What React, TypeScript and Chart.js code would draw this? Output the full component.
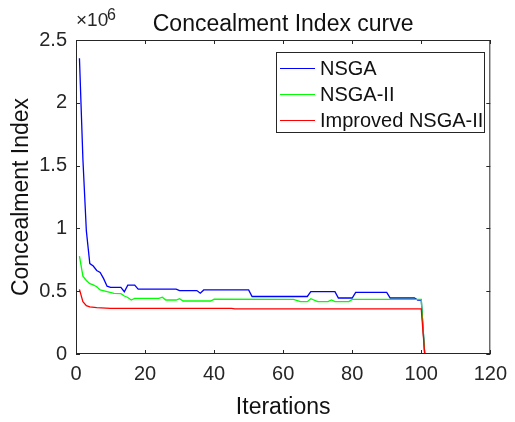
import React, { useEffect, useRef } from "react";
import { Chart, registerables } from "chart.js";

Chart.register(...registerables);

// Iteration breakpoints and Concealment Index values (×10^6)
const nsgaIter = [1, 2, 3, 4, 5, 6, 7, 8, 9, 10, 13, 14, 15, 17, 18, 29, 30, 35, 36, 37, 50, 51, 67, 68, 75, 76, 80, 81, 90, 91, 98, 99, 100, 101];
const nsgaVal = [2.354, 1.55, 0.98, 0.72, 0.7, 0.665, 0.65, 0.6, 0.54, 0.53, 0.53, 0.496, 0.548, 0.548, 0.517, 0.517, 0.505, 0.505, 0.484, 0.51, 0.51, 0.458, 0.458, 0.496, 0.496, 0.446, 0.446, 0.49, 0.49, 0.446, 0.446, 0.43, 0.43, 0];

const nsga2Iter = [1, 2, 3, 4, 5, 6, 7, 9, 11, 13, 14, 15, 16, 17, 24, 25, 26, 29, 30, 31, 39, 40, 63, 65, 67, 68, 70, 73, 74, 75, 79, 80, 100, 101];
const nsga2Val = [0.78, 0.62, 0.585, 0.56, 0.55, 0.536, 0.51, 0.496, 0.483, 0.48, 0.462, 0.45, 0.43, 0.443, 0.443, 0.452, 0.43, 0.43, 0.44, 0.422, 0.422, 0.437, 0.435, 0.417, 0.417, 0.44, 0.417, 0.417, 0.43, 0.417, 0.417, 0.435, 0.435, 0];

const impIter = [1, 2, 3, 4, 6, 10, 45, 46, 100, 101];
const impVal = [0.515, 0.417, 0.385, 0.375, 0.369, 0.363, 0.363, 0.359, 0.359, 0];

const seriesNames = ["NSGA", "NSGA-II", "Improved NSGA-II"];
const seriesColors = ["#0000ff", "#00ff00", "#ff0000"];
const xTicks = [0, 20, 40, 60, 80, 100, 120];
const yTicks = [0, 0.5, 1, 1.5, 2, 2.5];
const SCALE = 1e6;

const FONT = '"Liberation Sans", Arial, sans-serif';

function toPoints(xs: number[], ys: number[]) {
  return xs.map((x, i) => ({ x, y: ys[i] * SCALE }));
}

const decorPlugin = {
  id: "decor",
  afterDraw(chart: any) {
    const ctx = chart.ctx as CanvasRenderingContext2D;
    const { left, right, top, bottom } = chart.chartArea;
    const xs = chart.scales.x;
    const ys = chart.scales.y;
    ctx.save();
    const axisColor = "#262626";
    ctx.strokeStyle = axisColor;
    ctx.lineWidth = 1;
    // box
    ctx.strokeRect(left + 0.5, top + 0.5, right - left - 1, bottom - top - 1);
    // inner ticks
    const tl = 4;
    ctx.beginPath();
    xTicks.forEach((t) => {
      const px = Math.round(xs.getPixelForValue(t)) + 0.5;
      ctx.moveTo(px, bottom);
      ctx.lineTo(px, bottom - tl);
      ctx.moveTo(px, top);
      ctx.lineTo(px, top + tl);
    });
    yTicks.forEach((t) => {
      const py = Math.round(ys.getPixelForValue(t * SCALE)) + 0.5;
      ctx.moveTo(left, py);
      ctx.lineTo(left + tl, py);
      ctx.moveTo(right, py);
      ctx.lineTo(right - tl, py);
    });
    ctx.stroke();

    // title
    ctx.fillStyle = "#111";
    ctx.font = `23px ${FONT}`;
    ctx.textAlign = "center";
    ctx.textBaseline = "alphabetic";
    ctx.fillText("Concealment Index curve", (left + right) / 2, 31);

    // x label
    ctx.fillText("Iterations", (left + right) / 2, 414);

    // y label
    ctx.save();
    ctx.translate(28, (top + bottom) / 2);
    ctx.rotate(-Math.PI / 2);
    ctx.fillText("Concealment Index", 0, 0);
    ctx.restore();

    // exponent
    ctx.fillStyle = axisColor;
    ctx.textAlign = "left";
    ctx.font = `19px ${FONT}`;
    ctx.fillText("\u00d710", 76, 26);
    ctx.font = `16px ${FONT}`;
    ctx.fillText("6", 107, 20);

    // legend
    const lx = 276, ly = 52, lw = 208, lh = 80;
    ctx.fillStyle = "#fff";
    ctx.fillRect(lx, ly, lw, lh);
    ctx.strokeStyle = axisColor;
    ctx.strokeRect(lx + 0.5, ly + 0.5, lw, lh);
    const rows = [68, 94, 120];
    ctx.font = `20px ${FONT}`;
    ctx.textBaseline = "middle";
    seriesNames.forEach((name, i) => {
      ctx.strokeStyle = seriesColors[i];
      ctx.lineWidth = 1.2;
      ctx.beginPath();
      ctx.moveTo(280, rows[i] + 0.5);
      ctx.lineTo(315, rows[i] + 0.5);
      ctx.stroke();
      ctx.fillStyle = "#111";
      ctx.fillText(name, 320, rows[i] + 1);
    });
    ctx.restore();
  },
};

export default function App() {
  const ref = useRef<HTMLCanvasElement>(null);
  useEffect(() => {
    if (!ref.current) return;
    const datasets = [
      { label: seriesNames[0], data: toPoints(nsgaIter, nsgaVal), order: 2 },
      { label: seriesNames[1], data: toPoints(nsga2Iter, nsga2Val), order: 1 },
      { label: seriesNames[2], data: toPoints(impIter, impVal), order: 0 },
    ].map((d, i) => ({
      ...d,
      borderColor: seriesColors[i],
      backgroundColor: seriesColors[i],
      borderWidth: 1.3,
      pointRadius: 0,
      tension: 0,
      fill: false,
    }));
    const chart = new Chart(ref.current, {
      type: "line",
      data: { datasets },
      options: {
        animation: false,
        responsive: false,
        events: [],
        layout: { padding: { left: 0, right: 18, top: 40, bottom: 0 } },
        plugins: { legend: { display: false }, title: { display: false }, tooltip: { enabled: false } },
        scales: {
          x: {
            type: "linear",
            min: 0,
            max: 120,
            grid: { display: false, drawTicks: false },
            border: { display: false },
            afterFit: (s: any) => { s.height = 68; },
            afterBuildTicks: (s: any) => { s.ticks = xTicks.map((v) => ({ value: v })); },
            ticks: {
              padding: 8,
              color: "#262626",
              font: { family: FONT, size: 20 },
              maxRotation: 0,
              callback: (v: any) => String(v),
            },
          },
          y: {
            type: "linear",
            min: 0,
            max: 2.5 * SCALE,
            grid: { display: false, drawTicks: false },
            border: { display: false },
            afterFit: (s: any) => { s.width = 76; },
            afterBuildTicks: (s: any) => { s.ticks = yTicks.map((v) => ({ value: v * SCALE })); },
            ticks: {
              padding: 9,
              color: "#262626",
              font: { family: FONT, size: 20 },
              callback: (v: any) => String(Number(v) / SCALE),
            },
          },
        },
      },
      plugins: [decorPlugin],
    } as any);
    return () => chart.destroy();
  }, []);
  return (
    <div style={{ position: "fixed", left: 0, top: 0, width: 515, height: 422, background: "#fff" }}>
      <canvas ref={ref} width={515} height={422} style={{ width: 515, height: 422 }} />
    </div>
  );
}
